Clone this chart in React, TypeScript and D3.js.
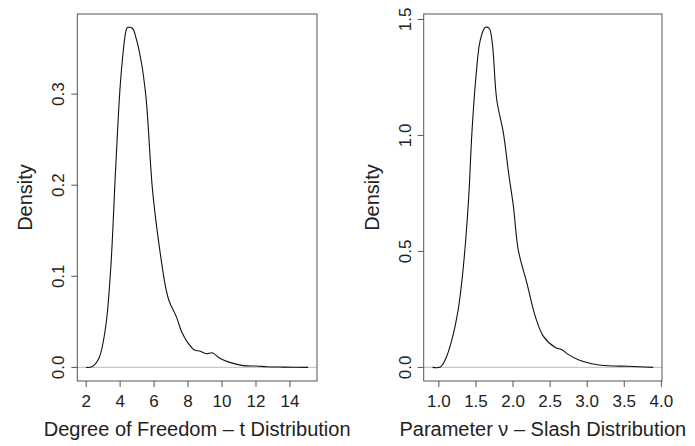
import React from 'react';
import * as d3 from 'd3';

// t distribution: posterior density of degrees of freedom
const dfX = [2.0, 2.36, 2.75, 3.15, 3.45, 3.74, 4.04, 4.34, 4.43, 4.73, 4.93, 5.22, 5.52, 5.91, 6.31, 6.71, 6.9, 7.3, 7.65, 7.99, 8.38, 8.68, 9.08, 9.43, 9.87, 10.46, 11.25, 12.04, 12.63, 13.62, 15.07];
const dfY = [0.0, 0.001, 0.01, 0.045, 0.11, 0.22, 0.318, 0.369, 0.373, 0.372, 0.362, 0.338, 0.297, 0.194, 0.132, 0.085, 0.072, 0.056, 0.038, 0.027, 0.019, 0.018, 0.015, 0.016, 0.01, 0.0055, 0.002, 0.0015, 0.0007, 0.0003, 0.0];
const dfXTicks = [2, 4, 6, 8, 10, 12, 14];
const dfYTicks = [0, 0.1, 0.2, 0.3];

// slash distribution: posterior density of nu
const nuX = [0.914, 1.02, 1.085, 1.175, 1.26, 1.33, 1.4, 1.445, 1.5, 1.557, 1.624, 1.678, 1.72, 1.78, 1.87, 1.94, 2.005, 2.07, 2.186, 2.3, 2.41, 2.57, 2.66, 2.75, 2.88, 3.06, 3.29, 3.56, 3.89];
const nuY = [0.0, 0.002, 0.033, 0.119, 0.249, 0.435, 0.723, 1.01, 1.254, 1.41, 1.465, 1.462, 1.398, 1.154, 1.01, 0.838, 0.694, 0.507, 0.364, 0.22, 0.134, 0.086, 0.076, 0.055, 0.033, 0.016, 0.007, 0.005, 0.0];
const nuXTicks = [1.0, 1.5, 2.0, 2.5, 3.0, 3.5, 4.0];
const nuYTicks = [0, 0.5, 1.0, 1.5];

const FONT = '"Liberation Sans", Arial, sans-serif';
const TEXT = '#222';

type PanelProps = {
  xs: number[];
  ys: number[];
  xTicks: number[];
  yTicks: number[];
  xFmt: (v: number) => string;
  yFmt: (v: number) => string;
  xLabel: string;
  left: number;
  right: number;
};

const Panel = ({ xs, ys, xTicks, yTicks, xFmt, yFmt, xLabel, left, right }: PanelProps) => {
  const top = 14;
  const bottom = 381;

  // R-style 4% padding around data range
  const [x0, x1] = d3.extent(xs) as [number, number];
  const xPad = (x1 - x0) * 0.04;
  const yMax = d3.max(ys) as number;
  const yPad = yMax * 0.04;

  const x = d3.scaleLinear().domain([x0 - xPad, x1 + xPad]).range([left, right]);
  const y = d3.scaleLinear().domain([-yPad, yMax + yPad]).range([bottom, top]);

  const line = d3.line<number>()
    .x((_, i) => x(xs[i]))
    .y(d => y(d))
    .curve(d3.curveCatmullRom.alpha(0.5));

  const midX = (left + right) / 2;
  const midY = (top + bottom) / 2;

  return (
    <g>
      {/* zero reference line */}
      <line x1={left} x2={right} y1={y(0)} y2={y(0)} stroke="#c8c8c8" strokeWidth={1.2} />
      <path d={line(ys) || ''} fill="none" stroke="#111" strokeWidth={1.1} />
      <rect x={left} y={top} width={right - left} height={bottom - top} fill="none" stroke="#555" strokeWidth={1} />

      {xTicks.map(t => (
        <g key={`x${t}`}>
          <line x1={x(t)} x2={x(t)} y1={bottom} y2={bottom + 6} stroke="#555" />
          <text x={x(t)} y={407} textAnchor="middle" fontSize={17} fill={TEXT}>{xFmt(t)}</text>
        </g>
      ))}
      {yTicks.map(t => (
        <g key={`y${t}`}>
          <line x1={left - 6} x2={left} y1={y(t)} y2={y(t)} stroke="#555" />
          <text transform={`translate(${left - 13}, ${y(t)}) rotate(-90)`} textAnchor="middle" fontSize={17} fill={TEXT}>{yFmt(t)}</text>
        </g>
      ))}

      <text x={midX} y={436} textAnchor="middle" fontSize={20} fill={TEXT}>{xLabel}</text>
      <text transform={`translate(${left - 45}, ${midY}) rotate(-90)`} textAnchor="middle" fontSize={20} fill={TEXT}>Density</text>
    </g>
  );
};

export default function App() {
  return (
    <svg width={695} height={446} style={{ position: 'absolute', left: 0, top: 0, background: '#fff', fontFamily: FONT }}>
      <Panel
        xs={dfX} ys={dfY} xTicks={dfXTicks} yTicks={dfYTicks}
        xFmt={d3.format('d')} yFmt={d3.format('.1f')}
        xLabel="Degree of Freedom – t Distribution"
        left={77.3} right={317}
      />
      <Panel
        xs={nuX} ys={nuY} xTicks={nuXTicks} yTicks={nuYTicks}
        xFmt={d3.format('.1f')} yFmt={d3.format('.1f')}
        xLabel="Parameter ν – Slash Distribution"
        left={423.7} right={662}
      />
    </svg>
  );
}
